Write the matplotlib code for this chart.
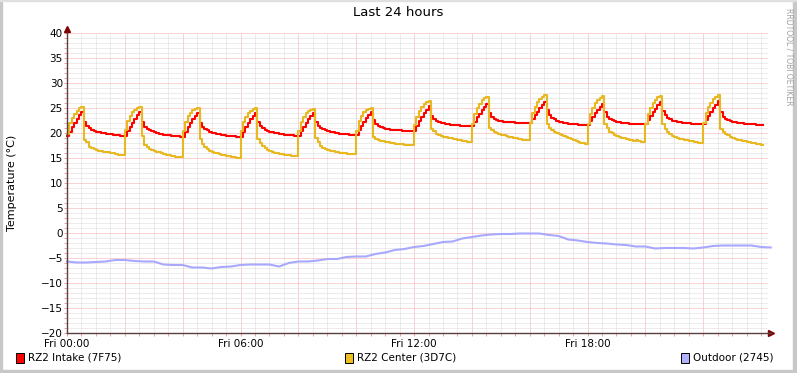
import numpy as np
import matplotlib
matplotlib.use("Agg")
import matplotlib.pyplot as plt
from matplotlib.patches import Rectangle
from matplotlib.ticker import MultipleLocator

# 5-minute samples, one row per 2-hour heating cycle
intake = [
    19.4, 20.3, 21.3, 22.1, 22.9, 23.6, 24.2, 22.2, 21.4, 21.0, 20.7, 20.5, 20.3, 20.2, 20.1, 20.0, 19.9, 19.9, 19.8, 19.7, 19.7, 19.6, 19.5, 19.5,
    19.5, 20.4, 21.3, 22.1, 22.9, 23.6, 24.2, 22.2, 21.3, 20.9, 20.6, 20.4, 20.2, 20.0, 19.9, 19.8, 19.7, 19.7, 19.6, 19.5, 19.5, 19.4, 19.4, 19.3,
    19.3, 20.3, 21.2, 22.0, 22.8, 23.5, 24.1, 22.1, 21.3, 20.9, 20.6, 20.3, 20.1, 20.0, 19.9, 19.8, 19.7, 19.6, 19.5, 19.5, 19.4, 19.4, 19.3, 19.3,
    19.3, 20.3, 21.2, 22.0, 22.8, 23.4, 24.0, 22.2, 21.4, 21.0, 20.7, 20.5, 20.3, 20.2, 20.1, 20.0, 19.9, 19.8, 19.7, 19.7, 19.6, 19.6, 19.5, 19.5,
    19.5, 20.4, 21.3, 22.1, 22.8, 23.5, 24.1, 22.3, 21.5, 21.1, 20.8, 20.6, 20.4, 20.3, 20.2, 20.1, 20.0, 19.9, 19.9, 19.8, 19.8, 19.7, 19.7, 19.7,
    19.7, 20.6, 21.5, 22.3, 23.0, 23.6, 24.2, 22.6, 21.9, 21.5, 21.2, 21.0, 20.9, 20.8, 20.7, 20.7, 20.6, 20.6, 20.6, 20.5, 20.5, 20.5, 20.5, 20.5,
    20.5, 21.5, 22.4, 23.2, 24.0, 24.7, 25.4, 23.4, 22.8, 22.5, 22.3, 22.1, 22.0, 21.9, 21.8, 21.7, 21.7, 21.6, 21.6, 21.5, 21.5, 21.5, 21.4, 21.4,
    21.4, 22.3, 23.2, 23.9, 24.6, 25.2, 25.8, 24.0, 23.3, 22.9, 22.7, 22.5, 22.4, 22.3, 22.3, 22.2, 22.2, 22.2, 22.1, 22.1, 22.1, 22.1, 22.1, 22.0,
    22.0, 22.8, 23.6, 24.3, 25.0, 25.7, 26.3, 24.6, 23.6, 23.1, 22.8, 22.5, 22.3, 22.2, 22.1, 22.0, 21.9, 21.9, 21.8, 21.8, 21.7, 21.7, 21.6, 21.6,
    21.6, 22.5, 23.3, 24.0, 24.7, 25.3, 25.9, 24.2, 23.3, 22.9, 22.6, 22.4, 22.3, 22.2, 22.1, 22.0, 22.0, 21.9, 21.9, 21.9, 21.8, 21.8, 21.8, 21.8,
    21.8, 22.6, 23.4, 24.2, 24.9, 25.6, 26.2, 24.4, 23.6, 23.1, 22.8, 22.5, 22.4, 22.3, 22.2, 22.1, 22.1, 22.0, 22.0, 21.9, 21.9, 21.9, 21.9, 21.9,
    21.9, 22.7, 23.5, 24.3, 25.0, 25.7, 26.4, 24.3, 23.2, 22.9, 22.6, 22.4, 22.3, 22.2, 22.1, 22.0, 22.0, 21.9, 21.9, 21.8, 21.8, 21.8, 21.7, 21.7,
    21.7, 21.7,
]

center = [
    19.8, 22.0, 23.0, 23.8, 24.5, 25.0, 25.3, 18.6, 18.3, 17.3, 17.0, 16.8, 16.6, 16.5, 16.4, 16.3, 16.3, 16.2, 16.1, 16.0, 15.8, 15.7, 15.6, 15.6,
    20.6, 22.4, 23.5, 24.2, 24.7, 25.0, 25.2, 19.4, 17.6, 17.2, 16.9, 16.7, 16.5, 16.3, 16.2, 16.0, 15.9, 15.7, 15.6, 15.5, 15.4, 15.3, 15.3, 15.3,
    20.5, 22.3, 23.4, 24.1, 24.6, 24.9, 25.1, 18.8, 17.8, 17.2, 16.8, 16.5, 16.3, 16.1, 16.0, 15.8, 15.7, 15.6, 15.5, 15.4, 15.3, 15.2, 15.1, 15.1,
    20.4, 22.2, 23.3, 24.0, 24.5, 24.8, 25.1, 18.9, 18.0, 17.4, 17.0, 16.7, 16.5, 16.3, 16.1, 16.0, 15.9, 15.8, 15.7, 15.6, 15.6, 15.5, 15.5, 15.4,
    20.4, 22.2, 23.3, 24.0, 24.4, 24.7, 24.9, 19.0, 18.2, 17.5, 17.1, 16.8, 16.6, 16.5, 16.4, 16.3, 16.2, 16.1, 16.0, 16.0, 15.9, 15.9, 15.9, 15.9,
    20.5, 22.5, 23.5, 24.2, 24.6, 24.9, 25.1, 19.2, 18.9, 18.7, 18.5, 18.4, 18.3, 18.2, 18.1, 18.0, 17.9, 17.9, 17.8, 17.8, 17.7, 17.7, 17.6, 17.6,
    21.6, 23.3, 24.4, 25.2, 25.8, 26.2, 26.5, 20.8, 20.4, 19.9, 19.6, 19.4, 19.3, 19.2, 19.1, 19.0, 18.9, 18.8, 18.7, 18.6, 18.5, 18.4, 18.3, 18.3,
    21.8, 23.8, 25.0, 25.9, 26.6, 27.0, 27.3, 21.0, 20.6, 20.3, 20.1, 19.9, 19.7, 19.6, 19.4, 19.3, 19.2, 19.1, 19.0, 18.9, 18.8, 18.7, 18.7, 18.6,
    22.0, 24.0, 25.3, 26.2, 26.9, 27.3, 27.6, 21.9, 21.0, 20.6, 20.3, 20.0, 19.8, 19.6, 19.5, 19.3, 19.1, 18.9, 18.7, 18.5, 18.3, 18.1, 18.0, 17.9,
    21.8, 23.8, 25.1, 26.0, 26.7, 27.1, 27.5, 21.9, 21.0, 20.3, 20.0, 19.7, 19.5, 19.3, 19.1, 19.0, 18.9, 18.7, 18.6, 18.4, 18.6, 18.4, 18.3, 18.3,
    21.9, 23.9, 25.1, 26.0, 26.7, 27.2, 27.5, 21.9, 20.8, 20.2, 19.8, 19.5, 19.3, 19.1, 18.9, 18.8, 18.7, 18.6, 18.5, 18.4, 18.3, 18.2, 18.1, 18.1,
    22.0, 24.0, 25.2, 26.1, 26.8, 27.3, 27.6, 20.9, 20.3, 19.9, 19.6, 19.3, 19.1, 18.9, 18.7, 18.6, 18.5, 18.4, 18.3, 18.2, 18.1, 18.0, 17.9, 17.8,
    17.7, 17.7,
]

# 20-minute samples
outdoor = [
    -5.7, -5.9, -5.9, -5.8, -5.7, -5.4, -5.4, -5.6, -5.7, -5.7, -6.3, -6.4,
    -6.4, -6.9, -6.9, -7.1, -6.8, -6.7, -6.4, -6.3, -6.3, -6.3, -6.7, -6.0,
    -5.7, -5.7, -5.5, -5.2, -5.2, -4.8, -4.7, -4.7, -4.2, -3.9, -3.4, -3.2,
    -2.8, -2.6, -2.2, -1.8, -1.7, -1.1, -0.8, -0.5, -0.3, -0.2, -0.2, -0.1,
    -0.1, -0.1, -0.4, -0.6, -1.3, -1.5, -1.8, -2.0, -2.1, -2.3, -2.4, -2.7,
    -2.7, -3.1, -3.0, -3.0, -3.0, -3.1, -2.9, -2.6, -2.5, -2.5, -2.5, -2.5,
    -2.8, -2.9,
]

series_labels = ["RZ2 Intake (7F75)", "RZ2 Center (3D7C)", "Outdoor (2745)"]
tick_hours = [0, 6, 12, 18]
tick_names = ["Fri 00:00", "Fri 06:00", "Fri 12:00", "Fri 18:00"]

W, H = 797, 373
fig = plt.figure(figsize=(W / 100, H / 100), dpi=100)
fig.patch.set_facecolor("white")

x0, x1, y0, y1 = 67, 768, 33, 333
ax = fig.add_axes([x0 / W, 1 - y1 / H, (x1 - x0) / W, (y1 - y0) / H])
ax.set_facecolor("white")

t_end = (x1 - x0) / 28.92
ax.set_xlim(0, t_end)
ax.set_ylim(-20, 40)

major_x = np.arange(0, 24, 2)
ax.set_xticks(major_x)
ax.set_xticklabels([tick_names[tick_hours.index(h)] if h in tick_hours else "" for h in major_x])
ax.xaxis.set_minor_locator(MultipleLocator(0.5))
ax.yaxis.set_major_locator(MultipleLocator(5))
ax.yaxis.set_minor_locator(MultipleLocator(1))

# dotted grid, 1px dots
ax.grid(which="minor", color="#dadada", linestyle=(0, (1, 1)), linewidth=0.72, snap=True)
ax.grid(which="major", color="#f4a8a8", linestyle=(0, (1, 1)), linewidth=0.72, snap=True)
ax.set_axisbelow(True)

ax.tick_params(which="both", direction="out", length=2, width=0.72, color="#f0a0a0",
               labelsize=7.5, pad=1)
ax.tick_params(axis="x", pad=2)

for side in ["top", "right"]:
    ax.spines[side].set_visible(False)
for side in ["left", "bottom"]:
    ax.spines[side].set_color("#5a4040")
    ax.spines[side].set_linewidth(1.0)

t5 = np.arange(len(intake)) * 5 / 60
t20 = np.arange(len(outdoor)) * 20 / 60
ax.plot(t5, intake, color="#ff0000", lw=1.5, drawstyle="steps-post", clip_on=False)
ax.plot(t5, center, color="#e8b820", lw=1.5, drawstyle="steps-post", clip_on=False)
ax.plot(t20, outdoor, color="#a8a8ff", lw=1.5, clip_on=False)

# arrows at the axis ends
ax.plot([1.004], [0], marker=">", ms=4, color="#7f0000", transform=ax.transAxes, clip_on=False)
ax.plot([0], [1.015], marker="^", ms=4, color="#7f0000", transform=ax.transAxes, clip_on=False)
ax.plot([1, 1.004], [0, 0], color="#5a4040", lw=1, transform=ax.transAxes, clip_on=False)

fig.text(12 / W, 1 - 183 / H, "Temperature (°C)", rotation=90, ha="center", va="center", fontsize=8)
fig.text(398 / W, 1 - 13 / H, "Last 24 hours", ha="center", va="center", fontsize=9.5)
fig.text(789 / W, 1 - 57 / H, "RRDTOOL / TOBI OETIKER", rotation=270, ha="center",
         va="center", fontsize=5.5, color="#a0a0a0")

# legend
swatches = [(16, "#ff0000"), (345, "#ebc020"), (681, "#b0b0ff")]
for (sx, col), lab in zip(swatches, series_labels):
    fig.patches.append(Rectangle((sx / W, 1 - 363 / H), 8 / W, 10 / H, transform=fig.transFigure,
                                 facecolor=col, edgecolor="black", linewidth=0.7))
    fig.text((sx + 12) / W, 1 - 358 / H, lab, ha="left", va="center", fontsize=7.5)

# frame
fig.patches.append(Rectangle((0, 0), 2 / W, 1, transform=fig.transFigure, color="#c8c8c8"))
fig.patches.append(Rectangle((1 - 4 / W, 0), 4 / W, 1, transform=fig.transFigure, color="#c8c8c8"))
fig.patches.append(Rectangle((0, 0), 1, 3 / H, transform=fig.transFigure, color="#c8c8c8"))
fig.patches.append(Rectangle((0, 1 - 1 / H), 1, 1 / H, transform=fig.transFigure, color="#e0e0e0"))

fig.savefig("out.png", dpi=100)
